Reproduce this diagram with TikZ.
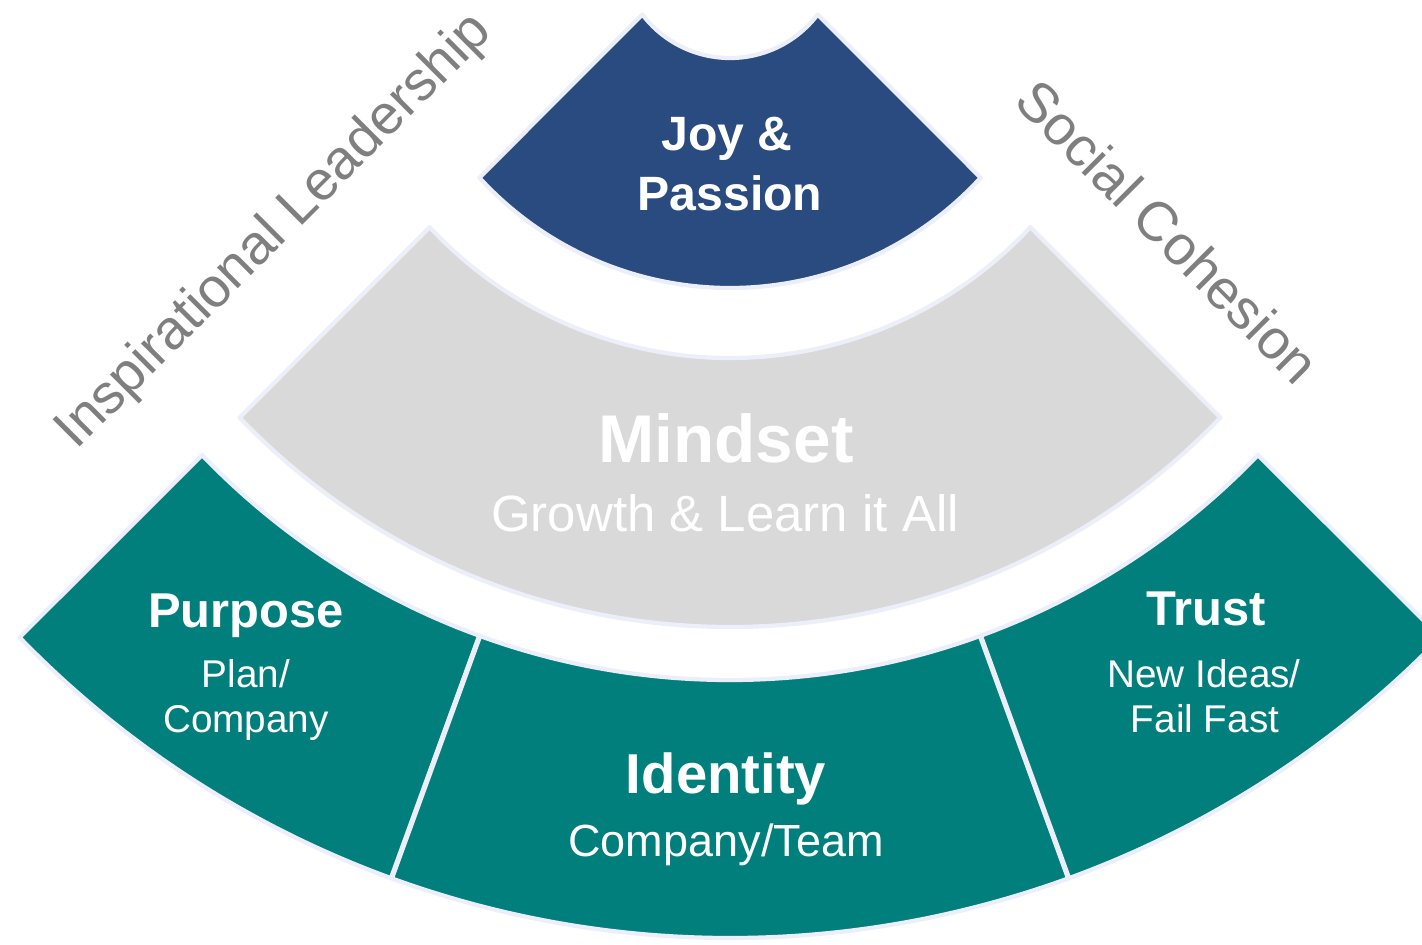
\documentclass[tikz,border=0pt]{standalone}
\usepackage{fontspec}
\setmainfont{Liberation Sans}
\definecolor{joyblue}{HTML}{2A4B7F}
\definecolor{mindgray}{HTML}{D9D9D9}
\definecolor{baseteal}{HTML}{017F7D}
\definecolor{rimline}{HTML}{ECEFFA}
\definecolor{sidegray}{HTML}{7F7F7F}
\tikzset{
  ring/.style={
    draw=rimline,
    line width=1.2pt,
    line join=round},
  divider/.style={draw=rimline, line width=1.5pt},
  headtext/.style={
    text=white,
    font=\bfseries\fontsize{#1}{#1}\selectfont,
    anchor=base,
    inner sep=0pt},
  subtext/.style={
    text=white,
    font=\fontsize{#1}{#1}\selectfont,
    anchor=base,
    inner sep=0pt},
  sidelabel/.style={text=sidegray, font=\fontsize{15.8}{18}\selectfont},
}

\begin{document}
\begin{tikzpicture}[x=0.01cm, y=0.01cm]
  \useasboundingbox (0,0) rectangle (1422,-944);
  \clip (0,0) rectangle (1422,-944);
  % all arcs share this centre, the straight sides run at 45 degrees
  \coordinate (hub) at (730,52);
  % top band
  \filldraw[ring, fill=joyblue] ([shift={(hub)}]217.2:110) -- ([shift={(hub)}]222.5:340)
     arc[start angle=222.5, end angle=317.5, radius=340]
     -- ([shift={(hub)}]322.8:110)
     arc[start angle=322.8, end angle=217.2, radius=110] -- cycle;
  % middle band
  \filldraw[ring, fill=mindgray] ([shift={(hub)}]222.9:410) -- ([shift={(hub)}]223.75:679)
     arc[start angle=223.75, end angle=316.25, radius=679]
     -- ([shift={(hub)}]317.1:410)
     arc[start angle=317.1, end angle=222.9, radius=410] -- cycle;
  % bottom band, cut in three
  \filldraw[ring, fill=baseteal] ([shift={(hub)}]223.84:732) -- ([shift={(hub)}]224.14:990)
     arc[start angle=224.14, end angle=315.86, radius=990]
     -- ([shift={(hub)}]316.16:732)
     arc[start angle=316.16, end angle=223.84, radius=732] -- cycle;
  \draw[divider] ([shift={(hub)}]250:732) -- ([shift={(hub)}]250:990);
  \draw[divider] ([shift={(hub)}]290:732) -- ([shift={(hub)}]290:990);

  \node[headtext=13.7] (joy)      at (727,-150) {Joy \&};
  \node[headtext=13.7] (passion)  at (730,-210) {Passion};
  \node[headtext=19.2] (mindset)  at (726,-462) {Mindset};
  \node[subtext=14.5]  (growth)   at (725,-531) {Growth \& Learn it All};
  \node[headtext=13.9] (purpose)  at (246,-627) {Purpose};
  \node[subtext=11]    (plan)     at (246,-687) {Plan/};
  \node[subtext=11]    (company)  at (246,-732) {Company};
  \node[headtext=16]   (identity) at (726,-793) {Identity};
  \node[subtext=12.8]  (compteam) at (726,-856) {Company/Team};
  \node[headtext=13.9] (trust)    at (1206,-625) {Trust};
  \node[subtext=11]    (newideas) at (1204,-687) {New Ideas/};
  \node[subtext=11]    (failfast) at (1205,-732) {Fail Fast};

  \node[sidelabel, rotate=45]  (leadership) at (275,-232) {Inspirational Leadership};
  \node[sidelabel, rotate=-45] (cohesion)   at (1168,-231) {Social Cohesion};
\end{tikzpicture}
\end{document}
